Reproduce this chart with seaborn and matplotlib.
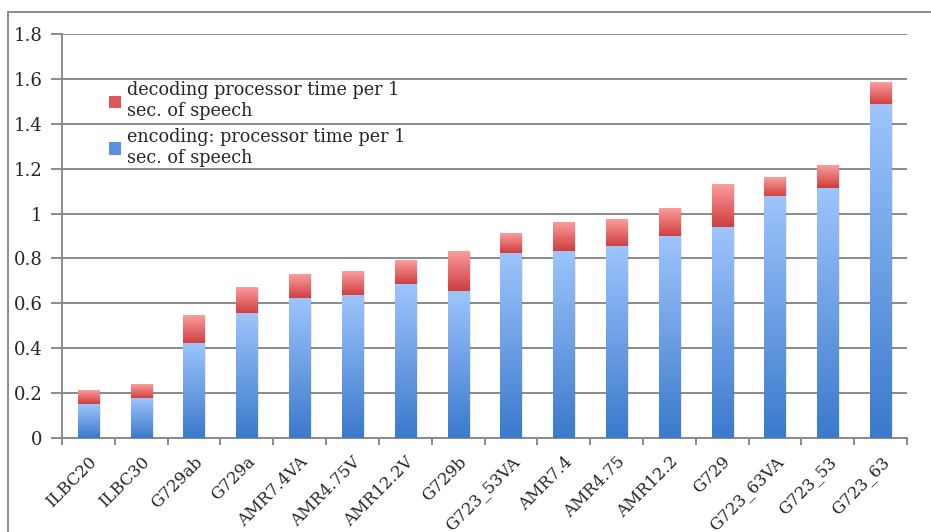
import matplotlib
matplotlib.use("Agg")
import matplotlib.pyplot as plt
import numpy as np
import pandas as pd
import seaborn as sns
from matplotlib.colors import LinearSegmentedColormap
from matplotlib.patches import Patch, Rectangle

codecs = ["ILBC20", "ILBC30", "G729ab", "G729a", "AMR7.4VA", "AMR4.75V",
          "AMR12.2V", "G729b", "G723_53VA", "AMR7.4", "AMR4.75", "AMR12.2",
          "G729", "G723_63VA", "G723_53", "G723_63"]
encoding = [0.15, 0.174, 0.42, 0.553, 0.62, 0.634, 0.682, 0.654, 0.823,
            0.832, 0.853, 0.897, 0.937, 1.075, 1.113, 1.485]
decoding = [0.06, 0.066, 0.128, 0.117, 0.11, 0.11, 0.111, 0.175, 0.089,
            0.125, 0.124, 0.129, 0.195, 0.088, 0.099, 0.101]

df = pd.DataFrame({"codec": codecs, "encoding": encoding, "decoding": decoding})
df["total"] = df["encoding"] + df["decoding"]

sns.set_style("white")
plt.rcParams["font.family"] = ["DejaVu Serif"]

fig = plt.figure(figsize=(9.31, 5.32), dpi=100)
ax = fig.add_axes([62 / 931, 94 / 532, 845 / 931, 404 / 532])

# stacked bars: total (decoding on top) then encoding over it
sns.barplot(data=df, x="codec", y="total", color="#e05555", width=0.4,
            ax=ax, zorder=3, saturation=1)
sns.barplot(data=df, x="codec", y="encoding", color="#6a9be6", width=0.4,
            ax=ax, zorder=4, saturation=1)

red_cm = LinearSegmentedColormap.from_list("red", ["#cf3d3d", "#fb9c9c"])
blue_cm = LinearSegmentedColormap.from_list("blue", ["#3b7acc", "#9dc4fc"])
grad = np.linspace(0, 1, 64).reshape(-1, 1)

n = len(codecs)
tot_patches = ax.patches[:n]
enc_patches = ax.patches[n:2 * n]
for pt, pe in zip(tot_patches, enc_patches):
    x, w = pe.get_x(), pe.get_width()
    top_enc = pe.get_height()
    top_tot = pt.get_height()
    # soft shadow
    ax.add_patch(Rectangle((x + 0.035, 0), w, top_tot, facecolor="#000000",
                           alpha=0.08, edgecolor="none", zorder=2.5))
    ax.imshow(grad, extent=[x, x + w, top_enc, top_tot], origin="lower",
              aspect="auto", cmap=red_cm, zorder=3.1)
    ax.imshow(grad, extent=[x, x + w, 0, top_enc], origin="lower",
              aspect="auto", cmap=blue_cm, zorder=4.1)
    pt.set_visible(False)
    pe.set_visible(False)

ax.set_xlim(-0.5, n - 0.5)
ax.set_ylim(0, 1.8)
ax.set_yticks(np.arange(0, 1.81, 0.2))
ax.set_yticklabels(["0", "0.2", "0.4", "0.6", "0.8", "1", "1.2", "1.4", "1.6", "1.8"])
ax.yaxis.grid(True, color="#8a8a8a", linewidth=1.4, zorder=1)
ax.set_axisbelow(True)
ax.set_xlabel("")
ax.set_ylabel("")

for s in ["top", "right"]:
    ax.spines[s].set_visible(False)
for s in ["left", "bottom"]:
    ax.spines[s].set_color("#8a8a8a")
    ax.spines[s].set_linewidth(1.4)

ax.tick_params(axis="y", length=8, width=1.4, color="#8a8a8a", labelsize=13,
               pad=6, left=True)
ax.set_xticks(np.arange(n))
ax.set_xticklabels(codecs, rotation=45, ha="right", rotation_mode="anchor",
                   fontsize=12)
ax.tick_params(axis="x", length=0, pad=11)
ax.set_xticks(np.arange(-0.5, n, 1), minor=True)
ax.tick_params(axis="x", which="minor", length=5, width=1.4, color="#8a8a8a",
               bottom=True)

handles = [Patch(facecolor="#e05555", edgecolor="none"),
           Patch(facecolor="#5b8fe0", edgecolor="none")]
labels = ["decoding processor time per 1\nsec. of speech",
          "encoding: processor time per 1\nsec. of speech"]
ax.legend(handles, labels, loc="upper left", bbox_to_anchor=(0.047, 0.9),
          frameon=False, fontsize=12.7, handlelength=0.7, handleheight=0.7,
          handletextpad=0.35, labelspacing=0.45, borderaxespad=0)

# outer chart frame
frame = Rectangle((8 / 931, -0.01), 0.995, 1 - 12 / 532 + 0.01,
                  transform=fig.transFigure, fill=False,
                  edgecolor="#8a8a8a", linewidth=1.4)
fig.patches.append(frame)

fig.savefig("out.png", dpi=100)
